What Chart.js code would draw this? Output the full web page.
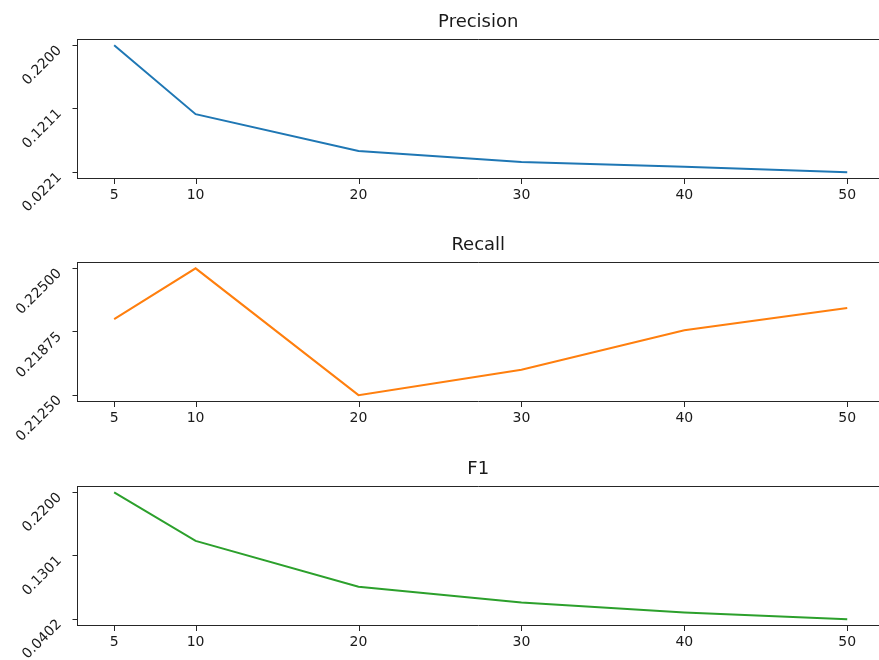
<!DOCTYPE html>
<html>
<head>
<meta charset="utf-8">
<script src="https://cdn.jsdelivr.net/npm/chart.js@4/dist/chart.umd.min.js"></script>
<style>
html, body { margin: 0; padding: 0; background: #fff; overflow: hidden; width: 879px; height: 660px; }
.panel { position: absolute; left: 0; width: 879px; height: 223px; }
canvas { display: block; }
</style>
</head>
<body>
<div class="panel" style="top:0px"><canvas id="c1" width="879" height="223" style="width:879px;height:223px"></canvas></div>
<div class="panel" style="top:223px"><canvas id="c2" width="879" height="223" style="width:879px;height:223px"></canvas></div>
<div class="panel" style="top:447px"><canvas id="c3" width="879" height="213" style="width:879px;height:213px"></canvas></div>
<script>
// ---- data ----
const xValues = [5, 10, 20, 30, 40, 50];
const precision = [0.2200, 0.1126, 0.0550, 0.0379, 0.0307, 0.0221];
const recall = [0.2200, 0.2250, 0.2125, 0.2150, 0.2189, 0.2211];
const f1 = [0.2200, 0.1512, 0.0861, 0.0637, 0.0496, 0.0402];

const precisionTickLabels = ['0.0221', '0.1211', '0.2200'];
const recallTickLabels = ['0.21250', '0.21875', '0.22500'];
const f1TickLabels = ['0.0402', '0.1301', '0.2200'];

const titles = ['Precision', 'Recall', 'F1'];
const colors = ['#1f77b4', '#ff7f0e', '#2ca02c'];

// visible x-axis limits (the right part of the figure is cropped)
const xAxisMin = 2.75;
const xAxisMax = 51.95;

// ---- styling ----
const FONT = 'DejaVu Sans';
const SPINE = '#262626';
const TEXT = '#1a1a1a';

// top spine + x tick marks (outward)
const axesPlugin = {
  id: 'axesDecor',
  afterDraw(chart) {
    const { ctx, chartArea: a } = chart;
    const xs = chart.scales.x;
    ctx.save();
    ctx.strokeStyle = SPINE;
    ctx.lineWidth = 1;
    ctx.beginPath();
    const t = Math.round(a.top) + 0.5;
    ctx.moveTo(a.left, t);
    ctx.lineTo(a.right, t);
    const b = Math.round(a.bottom);
    xs.ticks.forEach(tk => {
      const px = Math.round(xs.getPixelForValue(tk.value)) + 0.5;
      ctx.moveTo(px, b);
      ctx.lineTo(px, b + 5);
    });
    ctx.stroke();
    ctx.restore();
  }
};

function makeChart(id, title, values, tickLabels, color, bottomH) {
  const lo = Math.min(...values), hi = Math.max(...values);
  const span = hi - lo;
  const yTicks = [lo, (lo + hi) / 2, hi];
  return new Chart(document.getElementById(id), {
    type: 'line',
    data: {
      datasets: [{
        data: xValues.map((x, i) => ({ x: x, y: values[i] })),
        borderColor: color,
        backgroundColor: color,
        borderWidth: 2,
        pointRadius: 0,
        tension: 0,
        fill: false
      }]
    },
    options: {
      responsive: false,
      maintainAspectRatio: false,
      animation: false,
      devicePixelRatio: 1,
      layout: { padding: { left: 0, right: 0, top: 0, bottom: 0 } },
      plugins: {
        legend: { display: false },
        tooltip: { enabled: false },
        title: {
          display: true,
          text: title,
          fullSize: false,
          color: TEXT,
          font: { family: FONT, size: 18, weight: 'normal' },
          padding: { top: 11.7, bottom: 5.7 }
        }
      },
      scales: {
        x: {
          type: 'linear',
          min: xAxisMin,
          max: xAxisMax,
          afterBuildTicks: s => { s.ticks = xValues.map(v => ({ value: v })); },
          afterFit: s => { s.height = bottomH; },
          ticks: {
            autoSkip: false, maxRotation: 0, minRotation: 0, padding: 8,
            color: TEXT, font: { family: FONT, size: 14 },
            callback: v => String(v)
          },
          grid: { display: false, drawTicks: false, tickLength: 0 },
          border: { display: true, color: SPINE, width: 1 }
        },
        y: {
          type: 'linear',
          min: lo - 0.05 * span,
          max: hi + 0.05 * span,
          afterBuildTicks: s => { s.ticks = yTicks.map(v => ({ value: v })); },
          afterFit: s => { s.width = 77.5; },
          ticks: {
            autoSkip: false, minRotation: 45, maxRotation: 45, padding: 13, labelOffset: 3,
            color: TEXT, font: { family: FONT, size: 14 },
            callback: (v, i) => tickLabels[i]
          },
          grid: { drawOnChartArea: false, drawTicks: true, tickLength: 5, tickColor: SPINE, tickWidth: 1 },
          border: { display: true, color: SPINE, width: 1 }
        }
      }
    },
    plugins: [axesPlugin]
  });
}

makeChart('c1', titles[0], precision, precisionTickLabels, colors[0], 44.5);
makeChart('c2', titles[1], recall, recallTickLabels, colors[1], 44.5);
makeChart('c3', titles[2], f1, f1TickLabels, colors[2], 34.5);
</script>
</body>
</html>
